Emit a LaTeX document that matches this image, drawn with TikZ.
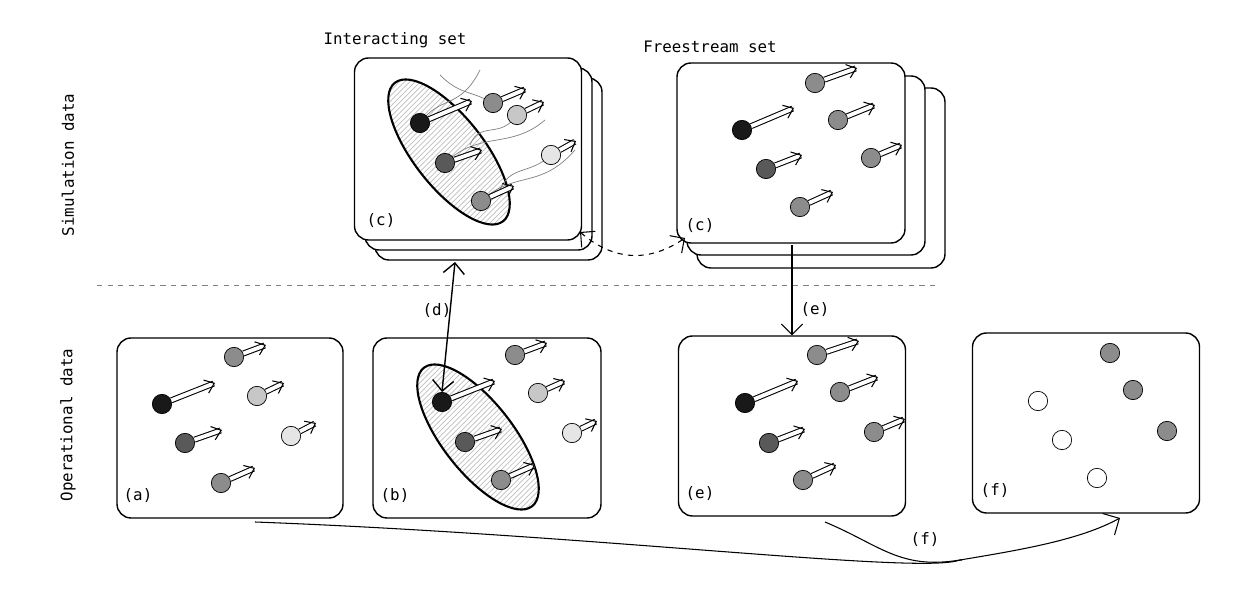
\documentclass[tikz,border=0pt]{standalone}
\usepackage{fontspec}
\setmainfont{DejaVu Sans Mono}
\usetikzlibrary{arrows.meta,shapes.geometric,patterns}
\tikzset{panel/.style={draw=black, thick, rounded corners=8pt, fill=white}}
\tikzset{pt/.style={shape=circle, draw=black, thin, minimum size=11pt, inner sep=0pt}}
\tikzset{vel/.style={draw=black, double=white, double distance=2.2pt, semithick, -{Straight Barb[length=5pt,width=8pt]}}}
\tikzset{blob/.style={shape=ellipse, draw=black, very thick, pattern=north east lines, pattern color=gray!50, minimum width=100pt, minimum height=40pt}}
\tikzset{lbl/.style={font=\small}}
\colorlet{c1}{black!90}
\colorlet{c2}{black!65}
\colorlet{c3}{black!45}
\colorlet{c4}{black!22}
\colorlet{c5}{black!10}

\begin{document}
\begin{tikzpicture}[x=0.02cm, y=-0.02cm]
  \useasboundingbox (0,0) rectangle (1251,597);

  % side labels and separator
  \node[lbl, rotate=90] (sim) at (68,165) {Simulation data};
  \node[lbl, rotate=90] (op) at (68,425) {Operational data};
  \draw[dashed, gray] (97,285) -- (935,285);

  % stacked simulation panels
  \draw[panel] (375,78) rectangle (602,260);
  \draw[panel] (365,68) rectangle (592,250);
  \node[panel, minimum width=227*0.02cm, minimum height=182*0.02cm] (ci) at (468,149) {};
  \node[lbl] (cilab) at (395,40) {Interacting set};
  \node[lbl] at (381,221) {(c)};

  \draw[panel] (697,88) rectangle (945,268);
  \draw[panel] (687,76) rectangle (925,255);
  \node[panel, minimum width=228*0.02cm, minimum height=180*0.02cm] (cf) at (791,153) {};
  \node[lbl] (cflab) at (710,47) {Freestream set};
  \node[lbl] at (700,226) {(c)};

  % operational panels
  \node[panel, minimum width=226*0.02cm, minimum height=180*0.02cm] (pa) at (230,428) {};
  \node[panel, minimum width=228*0.02cm, minimum height=180*0.02cm] (pb) at (487,428) {};
  \node[panel, minimum width=227*0.02cm, minimum height=180*0.02cm] (pe) at (792,426) {};
  \node[panel, minimum width=227*0.02cm, minimum height=180*0.02cm] (pf) at (1086,423) {};
  \node[lbl] at (138,496) {(a)};
  \node[lbl] at (395,496) {(b)};
  \node[lbl] at (700,494) {(e)};
  \node[lbl] at (995,491) {(f)};

  % interacting clusters
  \node[blob, rotate=-52] (bi) at (449,152) {};
  \node[blob, rotate=-52] (bb) at (478,437) {};

  % wakes in interacting set
  \draw[gray, thin] (420,123) .. controls (440,95) and (460,110) .. (480,70);
  \draw[gray, thin] (445,163) .. controls (480,130) and (510,150) .. (545,120);
  \draw[gray, thin] (481,201) .. controls (515,170) and (540,190) .. (575,150);
  \draw[gray, thin] (493,103) .. controls (470,90) and (460,95) .. (440,75);
  \draw[gray, thin] (517,115) .. controls (500,140) and (480,120) .. (470,145);
  \draw[gray, thin] (551,155) .. controls (530,175) and (510,165) .. (500,190);

  % particles, panel (a)
  \node[pt, fill=c1] (a1) at (162,404) {};
  \node[pt, fill=c2] (a2) at (185,443) {};
  \node[pt, fill=c3] (a3) at (234,357) {};
  \node[pt, fill=c4] (a4) at (257,396) {};
  \node[pt, fill=c5] (a5) at (291,436) {};
  \node[pt, fill=c3] (a6) at (221,483) {};
  \coordinate (va1) at (215,383); \coordinate (va2) at (222,430);
  \coordinate (va3) at (266,345); \coordinate (va4) at (284,383);
  \coordinate (va5) at (316,423); \coordinate (va6) at (255,468);
  \foreach \i in {1,...,6} \draw[vel] (a\i) -- (va\i);

  % particles, panel (b)
  \node[pt, fill=c1] (b1) at (442,402) {};
  \node[pt, fill=c2] (b2) at (465,442) {};
  \node[pt, fill=c3] (b3) at (515,355) {};
  \node[pt, fill=c4] (b4) at (538,393) {};
  \node[pt, fill=c5] (b5) at (572,433) {};
  \node[pt, fill=c3] (b6) at (501,480) {};
  \coordinate (vb1) at (495,381); \coordinate (vb2) at (502,429);
  \coordinate (vb3) at (547,343); \coordinate (vb4) at (565,381);
  \coordinate (vb5) at (597,421); \coordinate (vb6) at (535,465);
  \foreach \i in {1,...,6} \draw[vel] (b\i) -- (vb\i);

  % particles, interacting set
  \node[pt, fill=c1] (i1) at (420,123) {};
  \node[pt, fill=c2] (i2) at (445,163) {};
  \node[pt, fill=c3] (i3) at (493,103) {};
  \node[pt, fill=c4] (i4) at (517,115) {};
  \node[pt, fill=c5] (i5) at (551,155) {};
  \node[pt, fill=c3] (i6) at (481,201) {};
  \coordinate (vi1) at (472,101); \coordinate (vi2) at (482,150);
  \coordinate (vi3) at (526,89); \coordinate (vi4) at (544,102);
  \coordinate (vi5) at (576,141); \coordinate (vi6) at (514,186);
  \foreach \i in {1,...,6} \draw[vel] (i\i) -- (vi\i);

  % particles, freestream set
  \node[pt, fill=c1] (f1) at (742,130) {};
  \node[pt, fill=c2] (f2) at (766,169) {};
  \node[pt, fill=c3] (f3) at (815,83) {};
  \node[pt, fill=c3] (f4) at (838,120) {};
  \node[pt, fill=c3] (f5) at (871,158) {};
  \node[pt, fill=c3] (f6) at (800,207) {};
  \coordinate (vf1) at (794,108); \coordinate (vf2) at (802,155);
  \coordinate (vf3) at (857,68); \coordinate (vf4) at (875,105);
  \coordinate (vf5) at (902,145); \coordinate (vf6) at (833,192);
  \foreach \i in {1,...,6} \draw[vel] (f\i) -- (vf\i);

  % particles, panel (e)
  \node[pt, fill=c1] (e1) at (745,403) {};
  \node[pt, fill=c2] (e2) at (769,443) {};
  \node[pt, fill=c3] (e3) at (817,355) {};
  \node[pt, fill=c3] (e4) at (840,392) {};
  \node[pt, fill=c3] (e5) at (874,432) {};
  \node[pt, fill=c3] (e6) at (803,480) {};
  \coordinate (ve1) at (798,381); \coordinate (ve2) at (805,429);
  \coordinate (ve3) at (859,341); \coordinate (ve4) at (878,377);
  \coordinate (ve5) at (905,419); \coordinate (ve6) at (836,465);
  \foreach \i in {1,...,6} \draw[vel] (e\i) -- (ve\i);

  % particles, panel (f)
  \node[pt, fill=white] (g1) at (1038,401) {};
  \node[pt, fill=white] (g2) at (1062,440) {};
  \node[pt, fill=white] (g3) at (1097,478) {};
  \node[pt, fill=c3] (g4) at (1110,353) {};
  \node[pt, fill=c3] (g5) at (1133,390) {};
  \node[pt, fill=c3] (g6) at (1167,431) {};

  % connectors
  \coordinate (dtop) at (455,262);
  \draw[thick, {Straight Barb[length=6pt]}-{Straight Barb[length=6pt]}] (dtop) -- (b1.north);
  \node[lbl] (dlab) at (437,311) {(d)};

  \coordinate (cs) at (580,232);
  \coordinate (ct) at (685,238);
  \draw[semithick, dashed, {Straight Barb[length=6pt]}-{Straight Barb[length=6pt]}] (cs) .. controls (615,262) and (650,262) .. (ct);

  \coordinate (es) at (792,245);
  \draw[semithick, -{Straight Barb[length=6pt]}] (es) -- (pe.north -| es);
  \node[lbl] (elab) at (815,310) {(e)};

  \coordinate (fa) at (255,522);
  \coordinate (fe) at (825,522);
  \coordinate (ft) at (1120,518);
  \draw[semithick] (fa) .. controls (600,535) and (920,575) .. (960,560) -- (962,560);
  \draw[semithick, -{Straight Barb[length=7pt]}] (fe) .. controls (880,545) and (900,570) .. (960,560) .. controls (1020,550) and (1080,540) .. (ft);
  \node[lbl] (flab) at (925,540) {(f)};
\end{tikzpicture}
\end{document}
